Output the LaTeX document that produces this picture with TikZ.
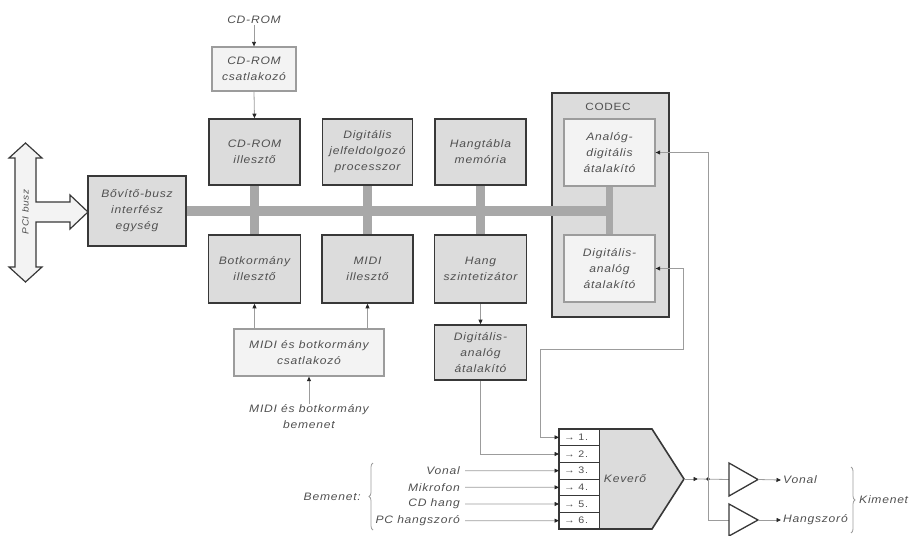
\documentclass[tikz,border=0pt]{standalone}
\usepackage{fontspec}
\setmainfont{Liberation Sans}[FakeStretch=1.12,LetterSpace=7]
\usetikzlibrary{arrows.meta,decorations.pathreplacing}
\definecolor{boxfill}{HTML}{DCDCDC}
\definecolor{confill}{HTML}{F3F3F3}
\definecolor{busgray}{HTML}{A8A8A8}
\definecolor{linegray}{HTML}{9C9C9C}
\definecolor{txt}{HTML}{505050}
\definecolor{edge}{HTML}{383838}
\pgfdeclarelayer{back}
\pgfdeclarelayer{buslayer}
\pgfsetlayers{back,buslayer,main}
\tikzset{
  txtst/.style={font=\itshape\fontsize{10.8}{16}\selectfont, text=txt, align=center, inner sep=1pt},
  mainbox/.style={txtst, draw=edge, line width=1.6pt, fill=boxfill},
  conbox/.style={txtst, draw=linegray, line width=1.3pt, fill=confill},
  codecin/.style={txtst, draw=linegray, line width=1.3pt, fill=confill, minimum width=91pt, minimum height=67pt},
  conn/.style={draw=linegray, line width=0.8pt},
  arr/.style={conn, -{Triangle[length=4.5pt,width=4pt,color=black!85]}},
  busline/.style={draw=busgray, line width=10pt},
  lab/.style={txtst, inner sep=2pt},
  rowlab/.style={font=\fontsize{9.5}{10}\selectfont, text=txt, inner sep=0pt},
  amp/.style={draw=edge, line width=1.3pt, fill=white, line join=miter},
  bracest/.style={draw=linegray, line width=0.8pt, decorate, decoration={brace, amplitude=4pt}}
}
\begin{document}
\begin{tikzpicture}[x=1pt,y=-1pt]
\useasboundingbox (0,0) rectangle (914,536);

% PCI bus arrow
\draw[draw=edge, line width=1.2pt, fill=confill, line join=miter]
  (25.5,143) -- (42,158) -- (36,158) -- (36,202) -- (70,202) -- (70,195) -- (88,212)
  -- (70,229) -- (70,222) -- (36,222) -- (36,267) -- (42,267) -- (25.5,282)
  -- (9,267) -- (15,267) -- (15,158) -- (9,158) -- cycle;
\node[txtst, font=\itshape\fontsize{9}{10}\selectfont, rotate=90] (pci) at (25.5,212) {PCI busz};

% CODEC outer
\begin{pgfonlayer}{back}
\node[draw=edge, line width=1.6pt, fill=boxfill, minimum width=117pt, minimum height=224pt, inner sep=0pt] (codec) at (610.5,205) {};
\end{pgfonlayer}
\node[font=\fontsize{10.5}{12}\selectfont, text=txt] (codeclab) at (608,107) {CODEC};

% boxes
\node[txtst] (cdtxt) at (254,20) {CD-ROM};
\node[conbox, minimum width=84pt, minimum height=44pt] (cdcon) at (254,69) {CD-ROM\\csatlakozó};
\node[mainbox, minimum width=91pt, minimum height=66pt] (cdil) at (254.5,152) {CD-ROM\\illesztő};
\node[mainbox, minimum width=90pt, minimum height=66pt] (dsp) at (367.5,152) {Digitális\\jelfeldolgozó\\processzor};
\node[mainbox, minimum width=91pt, minimum height=66pt] (mem) at (480.5,152) {Hangtábla\\memória};
\node[mainbox, minimum width=98pt, minimum height=70pt] (bovito) at (137,211) {Bővítő-busz\\interfész\\egység};
\node[mainbox, minimum width=92pt, minimum height=68pt] (botk) at (254.5,269) {Botkormány\\illesztő};
\node[mainbox, minimum width=91pt, minimum height=68pt] (midi) at (367.5,269) {MIDI\\illesztő};
\node[mainbox, minimum width=92pt, minimum height=68pt] (synth) at (480.5,269) {Hang\\szintetizátor};
\node[conbox, minimum width=150pt, minimum height=47pt] (midicon) at (309,352.5) {MIDI és botkormány\\csatlakozó};
\node[txtst] (midiin) at (309,417) {MIDI és botkormány\\bemenet};
\node[mainbox, minimum width=92pt, minimum height=55pt] (dac2) at (480.5,352.5) {Digitális-\\analóg\\átalakító};
\node[codecin] (adc) at (609.5,152.5) {Analóg-\\digitális\\átalakító};
\node[codecin] (dac) at (609.5,268.5) {Digitális-\\analóg\\átalakító};

% bus
\begin{pgfonlayer}{buslayer}
\draw[busline] (bovito.east) -- ([xshift=3.5pt]adc.south |- bovito.east);
\draw[busline, line width=9pt] (cdil.south) -- (botk.north);
\draw[busline, line width=9pt] (dsp.south) -- (midi.north);
\draw[busline, line width=9pt] (mem.south) -- (synth.north);
\draw[busline, line width=7.5pt] (adc.south) -- (dac.south);
\end{pgfonlayer}

% upper connectors
\draw[arr] (cdtxt.south) -- (cdcon.north);
\draw[arr] (cdcon.south) -- (cdil.north);
\draw[arr] (midicon.north -| botk.south) -- (botk.south);
\draw[arr] (midicon.north -| midi.south) -- (midi.south);
\draw[arr] (midiin.north) -- (midicon.south);
\draw[arr] (synth.south) -- (dac2.north);

% mixer
\fill[boxfill] (599,429) -- (652,429) -- (684,479) -- (652,529) -- (599,529) -- cycle;
\fill[white] (559,429) rectangle (599,529);
\foreach \i in {1,...,5} {
  \draw[draw=edge, line width=0.6pt] (559,{429+\i*16.667}) -- (599,{429+\i*16.667});
}
\draw[draw=edge, line width=0.6pt] (599,429) -- (599,529);
\draw[draw=edge, line width=1.6pt, line join=miter] (559,429) -- (652,429) -- (684,479) -- (652,529) -- (559,529) -- cycle;
\node[txtst] (kev) at (625,479) {Keverő};
\coordinate (mixout) at (684,479);
\foreach \i in {1,...,6} {
  \coordinate (in\i) at (559,{429+(\i-0.5)*16.667});
  \node[rowlab, anchor=west] (row\i) at (564,{429+(\i-0.5)*16.667}) {→ \i.};
}

% inputs
\node[lab, anchor=east] (lvonal) at (462,470.7) {Vonal};
\node[lab, anchor=east] (lmikro) at (462,487.3) {Mikrofon};
\node[lab, anchor=east] (lcd) at (462,504) {CD hang};
\node[lab, anchor=east] (lpc) at (462,520.7) {PC hangszoró};
\draw[arr] ([xshift=3pt]lvonal.east) -- (in3);
\draw[arr] ([xshift=3pt]lmikro.east) -- (in4);
\draw[arr] ([xshift=3pt]lcd.east) -- (in5);
\draw[arr] ([xshift=3pt]lpc.east) -- (in6);
\draw[bracest] (373,530) -- (373,463);
\node[lab, anchor=east] (bemenet) at (363,496.5) {Bemenet:};

% codec and dac connections
\coordinate (dacr) at (683,349);
\coordinate (dacl) at (540,349);
\draw[arr, {Triangle[length=4.5pt,width=4pt,color=black!85]}-{Triangle[length=4.5pt,width=4pt,color=black!85]}]
  (dac.east) -- (dac.east -| dacr) -- (dacr) -- (dacl) -- (dacl |- in1) -- (in1);
\draw[arr] (dac2.south) -- (dac2.south |- in2) -- (in2);

% outputs
\coordinate (mixarr) at (698,479);
\coordinate (split) at (708,479);
\coordinate (amp1in) at (729,479.5);
\coordinate (amp1out) at (758,479.5);
\coordinate (amp2in) at (729,520);
\coordinate (amp2out) at (758,520);
\draw[arr] (mixout) -- (mixarr);
\draw[conn] (mixarr) -- (amp1in);
\fill[black!85] (split) circle (1.8pt);
\draw[arr] (split) -- (split |- adc.east) -- (adc.east);
\draw[conn] (split) -- (split |- amp2in) -- (amp2in);
\draw[amp] (729,463) -- (758,479.5) -- (729,496) -- cycle;
\draw[amp] (729,504) -- (758,520) -- (729,536) -- cycle;
\node[lab, anchor=west] (ovonal) at (781,480) {Vonal};
\node[lab, anchor=west] (ohang) at (781,520) {Hangszoró};
\draw[arr] (amp1out) -- (ovonal.west);
\draw[arr] (amp2out) -- (ohang.west);
\draw[bracest] (851,467) -- (851,533);
\node[lab, anchor=west] (kimenet) at (857,500) {Kimenet};
\end{tikzpicture}
\end{document}
